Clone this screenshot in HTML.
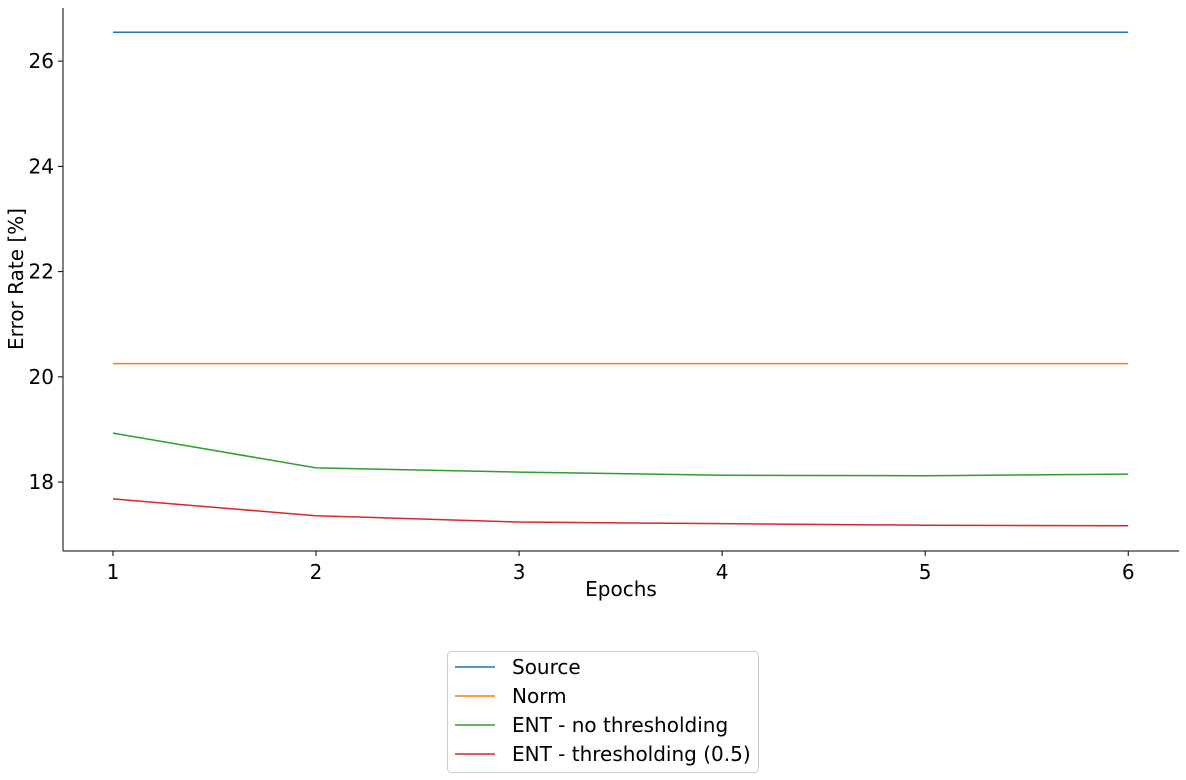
<!DOCTYPE html>
<html><head><meta charset="utf-8"><style>
body{margin:0;background:#fff;}
svg{display:block;font-family:"DejaVu Sans","Liberation Sans",sans-serif;}
</style></head><body>
<svg id="chart" width="1186" height="780"></svg>
<script>
const epochs=[1,2,3,4,5,6];
const sourceVals=[26.55,26.55,26.55,26.55,26.55,26.55];
const normVals=[20.25,20.25,20.25,20.25,20.25,20.25];
const entNoThr=[18.93,18.27,18.19,18.13,18.12,18.15];
const entThr=[17.68,17.36,17.24,17.21,17.18,17.17];
const xTicks=[1,2,3,4,5,6];
const yTicks=[18,20,22,24,26];
const seriesNames=["Source","Norm","ENT - no thresholding","ENT - thresholding (0.5)"];
const colors=["#1f77b4","#ff7f0e","#2ca02c","#d62728"];
const L=63,R=1179,T=8,B=551;
const xmin=0.754,xmax=6.25,ymin=16.69,ymax=27.01;
const xs=v=>L+(v-xmin)/(xmax-xmin)*(R-L);
const ys=v=>B-(v-ymin)/(ymax-ymin)*(B-T);
const svg=document.getElementById('chart');
const NS='http://www.w3.org/2000/svg';
function mk(tag,attrs,parent){const e=document.createElementNS(NS,tag);for(const k in attrs)e.setAttribute(k,attrs[k]);(parent||svg).appendChild(e);return e;}
let e;
e=mk('line',{x1:L,y1:T,x2:L,y2:B,stroke:'#000','stroke-width':1});


e=mk('line',{x1:L,y1:B,x2:R,y2:B,stroke:'#000','stroke-width':1});


xTicks.forEach(t=>{
 mk('line',{x1:xs(t),y1:B,x2:xs(t),y2:B+5,stroke:'#000'});
 e=mk('text',{x:xs(t),y:B+28,'text-anchor':'middle','font-size':20});
 e.textContent=t;
 
 
});
yTicks.forEach(t=>{
 mk('line',{x1:L-5,y1:ys(t),x2:L,y2:ys(t),stroke:'#000'});
 e=mk('text',{x:L-9,y:ys(t)+7,'text-anchor':'end','font-size':20});
 e.textContent=t;
 
 
});
e=mk('text',{x:(L+R)/2,y:596,'text-anchor':'middle','font-size':20});
e.textContent='Epochs';


e=mk('text',{x:23,y:279,'text-anchor':'middle','font-size':20,transform:'rotate(-90 23 279)'});
e.textContent='Error Rate [%]';


[sourceVals,normVals,entNoThr,entThr].forEach((vals,i)=>{
 const p=vals.map((v,j)=>xs(epochs[j])+','+ys(v)).join(' ');
 e=mk('polyline',{points:p,fill:'none',stroke:colors[i],'stroke-width':1.5});
 
 
});
const lg=mk('g',{});


mk('rect',{x:447.5,y:651.5,width:311,height:121,rx:4,fill:'#fff',stroke:'#ccc'},lg);
seriesNames.forEach((n,i)=>{
 const y=667+i*29;
 mk('line',{x1:455,y1:y,x2:495,y2:y,stroke:colors[i],'stroke-width':1.5},lg);
 e=mk('text',{x:512,y:y+7,'font-size':20},lg);
 e.textContent=n;
 
 
});
</script>
</body></html>
